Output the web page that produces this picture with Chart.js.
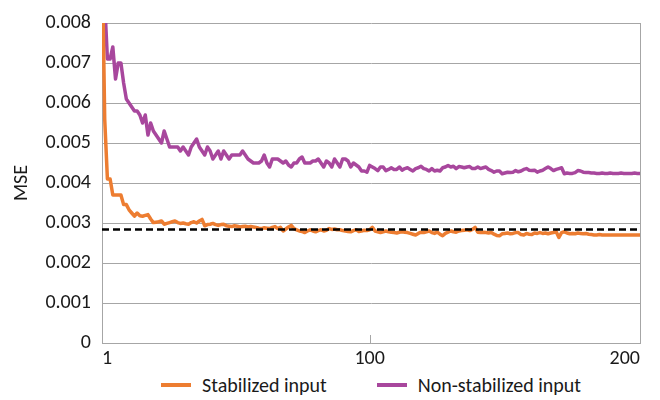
<!DOCTYPE html>
<html><head><meta charset="utf-8">
<script src="https://cdn.jsdelivr.net/npm/chart.js@4"></script>
<style>
html,body{margin:0;padding:0;background:#fff;}
#wrap{position:relative;width:660px;height:400px;overflow:hidden;}
#c{position:absolute;left:0;top:0;}
#legend{position:absolute;left:102px;width:538px;top:374px;height:22px;display:flex;justify-content:center;align-items:center;font-family:Carlito,Lato,sans-serif;font-size:20px;color:#1a1a1a;white-space:nowrap;}
.item{display:flex;align-items:center;}
.item + .item{margin-left:50px;}
.swatch{width:30px;height:3.5px;margin-right:11px;}
</style>
</head><body>
<div id="wrap"><canvas id="c" width="660" height="372"></canvas><div id="legend"></div></div>
<script>
const iterations = Array.from({length: 200}, (_, i) => i + 1);
const xTickLabels = [1, 100, 200];
const yTickStep = 0.001;
const referenceMSE = 0.00284;

const stabilized = [
0.0100,0.0056,0.0041,0.0041,0.0037,0.0037,0.0037,0.0037,0.00346,0.00346,
0.00333,0.00325,0.00317,0.00325,0.00318,0.00317,0.00319,0.00321,0.0031,0.00301,
0.00302,0.00303,0.00305,0.00297,0.00299,0.00301,0.00303,0.00305,0.00301,0.00299,
0.0030,0.00298,0.00297,0.00301,0.00303,0.0030,0.00305,0.00309,0.00293,0.00296,
0.00297,0.00299,0.00296,0.00294,0.00296,0.00297,0.00293,0.00292,0.00291,0.00293,
0.00292,0.0029,0.00291,0.00292,0.0029,0.00291,0.0029,0.00289,0.00287,0.00286,
0.00288,0.00287,0.00286,0.00289,0.00291,0.00286,0.00289,0.0028,0.00285,0.0029,
0.00294,0.00286,0.00283,0.0028,0.00279,0.00276,0.0028,0.00283,0.0028,0.00278,
0.00281,0.00283,0.0028,0.00282,0.00286,0.00284,0.00285,0.00283,0.00283,0.00281,
0.0028,0.00279,0.00278,0.00281,0.00283,0.00279,0.0028,0.00282,0.00281,0.00283,
0.00289,0.0028,0.00278,0.00276,0.00278,0.0028,0.00278,0.00277,0.00276,0.00275,
0.00277,0.00278,0.00277,0.00276,0.00274,0.00272,0.0027,0.00274,0.00277,0.00276,
0.00278,0.0028,0.00276,0.00274,0.00277,0.00272,0.00268,0.00274,0.00277,0.0028,
0.00278,0.00277,0.0028,0.00281,0.00282,0.00283,0.00281,0.00284,0.00289,0.00277,
0.00276,0.00277,0.00276,0.00275,0.00276,0.00272,0.00269,0.00268,0.00273,0.00274,
0.00275,0.00273,0.00274,0.00276,0.00276,0.00271,0.0027,0.00274,0.00272,0.00271,
0.00275,0.00274,0.00276,0.00274,0.00275,0.00273,0.00275,0.00276,0.00278,0.00264,
0.00276,0.00278,0.00275,0.00273,0.00274,0.00273,0.00275,0.00274,0.00273,0.00274,
0.00272,0.00271,0.0027,0.0027,0.00271,0.0027,0.0027,0.0027,0.0027,0.0027,
0.0027,0.0027,0.0027,0.0027,0.0027,0.0027,0.0027,0.0027,0.0027,0.0027
];

const nonStabilized = [
0.0120,0.0085,0.0071,0.0071,0.0074,0.0066,0.0070,0.0070,0.0065,0.0061,
0.0060,0.0059,0.0058,0.0058,0.0057,0.0055,0.0057,0.0052,0.0055,0.0053,
0.0052,0.0051,0.0050,0.0053,0.0051,0.0049,0.0049,0.0049,0.0049,0.0048,
0.0049,0.0048,0.0047,0.0049,0.0050,0.0051,0.0049,0.0048,0.0047,0.0049,
0.0048,0.0046,0.0047,0.0048,0.0046,0.0048,0.0047,0.0046,0.0047,0.0047,
0.0047,0.0047,0.0048,0.0047,0.0046,0.00455,0.0045,0.0045,0.0045,0.00455,
0.0047,0.0045,0.0044,0.0046,0.0046,0.0046,0.00455,0.0045,0.00455,0.00445,
0.0044,0.0045,0.0045,0.0046,0.00465,0.0045,0.0045,0.0045,0.00455,0.00455,
0.0046,0.0045,0.0044,0.00455,0.0045,0.0044,0.0046,0.0045,0.0044,0.0046,
0.0046,0.00455,0.0044,0.0045,0.00445,0.0044,0.0043,0.0043,0.00427,0.00444,
0.0044,0.00436,0.00431,0.0044,0.0044,0.00431,0.00434,0.00438,0.00434,0.00434,
0.0044,0.00432,0.00436,0.00438,0.00434,0.0043,0.00436,0.00438,0.00442,0.00436,
0.00434,0.0043,0.00436,0.0043,0.00432,0.0043,0.00438,0.0044,0.00444,0.0044,
0.00442,0.00436,0.00441,0.0044,0.00438,0.0044,0.00441,0.00436,0.00436,0.0044,
0.00436,0.00438,0.0044,0.00434,0.00431,0.00427,0.0043,0.0043,0.00423,0.00425,
0.00427,0.00426,0.00427,0.00431,0.00428,0.0043,0.00434,0.00436,0.00432,0.00431,
0.00432,0.00427,0.0043,0.00432,0.00436,0.0044,0.00436,0.00431,0.00434,0.00436,
0.00438,0.00423,0.00425,0.00424,0.00424,0.00426,0.00431,0.0043,0.00427,0.00426,
0.00426,0.00425,0.00425,0.00424,0.00424,0.00425,0.00424,0.00424,0.00425,0.00424,
0.00424,0.00424,0.00425,0.00424,0.00424,0.00424,0.00424,0.00425,0.00424,0.00424
];

const seriesNames = ['Stabilized input', 'Non-stabilized input'];
const seriesColors = ['#ED7D31', '#A8479D'];
const gridColor = '#a6a6a6';
const textColor = '#1a1a1a';
const fontFamily = 'Carlito, Lato, sans-serif';
const fontSize = 20;

const innerTick = {
  id: 'innerTick',
  beforeDatasetsDraw(chart) {
    const xs = chart.scales.x, ctx = chart.ctx, b = chart.chartArea.bottom;
    const px = Math.round(xs.getPixelForValue(xTickLabels[1])) + 0.5;
    ctx.save();
    ctx.strokeStyle = gridColor; ctx.lineWidth = 1;
    ctx.beginPath(); ctx.moveTo(px, b - 8); ctx.lineTo(px, b); ctx.stroke();
    ctx.restore();
  }
};

const chart = new Chart(document.getElementById('c'), {
  type: 'line',
  data: {
    labels: iterations,
    datasets: [
      {
        label: 'Reference',
        data: [{x: iterations[0], y: referenceMSE}, {x: iterations[iterations.length - 1], y: referenceMSE}],
        borderColor: '#000', borderWidth: 2.5, borderDash: [7, 4], pointRadius: 0, fill: false
      },
      {
        label: seriesNames[0], data: stabilized, borderColor: seriesColors[0], backgroundColor: seriesColors[0],
        borderWidth: 3.5, pointRadius: 0, tension: 0, borderJoinStyle: 'round', borderCapStyle: 'round'
      },
      {
        label: seriesNames[1], data: nonStabilized, borderColor: seriesColors[1], backgroundColor: seriesColors[1],
        borderWidth: 3.5, pointRadius: 0, tension: 0, borderJoinStyle: 'round', borderCapStyle: 'round'
      }
    ]
  },
  options: {
    responsive: false,
    animation: false,
    layout: {padding: {top: 16, right: 20, left: 0, bottom: 0}},
    plugins: {legend: {display: false}, tooltip: {enabled: false}},
    scales: {
      x: {
        type: 'linear', min: 1, max: 200,
        afterBuildTicks: s => { s.ticks = xTickLabels.map(v => ({value: v})); },
        afterFit: s => { s.height = 29; },
        ticks: {align: 'inner', padding: 4, maxRotation: 0, autoSkip: false, color: textColor, font: {family: fontFamily, size: fontSize}},
        grid: {drawTicks: false, lineWidth: 1, color: c => (c.tick && c.tick.value === 200) ? gridColor : 'rgba(0,0,0,0)'},
        border: {color: gridColor, width: 1}
      },
      y: {
        min: 0, max: 0.008,
        afterFit: s => { s.width = 102; },
        ticks: {stepSize: yTickStep, padding: 11, color: textColor, font: {family: fontFamily, size: fontSize},
          callback: v => v === 0 ? '0' : v.toFixed(3)},
        grid: {drawTicks: false, color: gridColor, lineWidth: 1},
        border: {color: gridColor, width: 1},
        title: {display: true, text: 'MSE', color: textColor, font: {family: fontFamily, size: fontSize}, padding: {top: 10, bottom: 0}}
      }
    }
  },
  plugins: [innerTick]
});

const legendEl = document.getElementById('legend');
chart.data.datasets.slice(1).forEach(ds => {
  const item = document.createElement('div'); item.className = 'item';
  const sw = document.createElement('div'); sw.className = 'swatch'; sw.style.background = ds.borderColor;
  const tx = document.createElement('span'); tx.textContent = ds.label;
  item.appendChild(sw); item.appendChild(tx); legendEl.appendChild(item);
});
</script>
</body></html>
